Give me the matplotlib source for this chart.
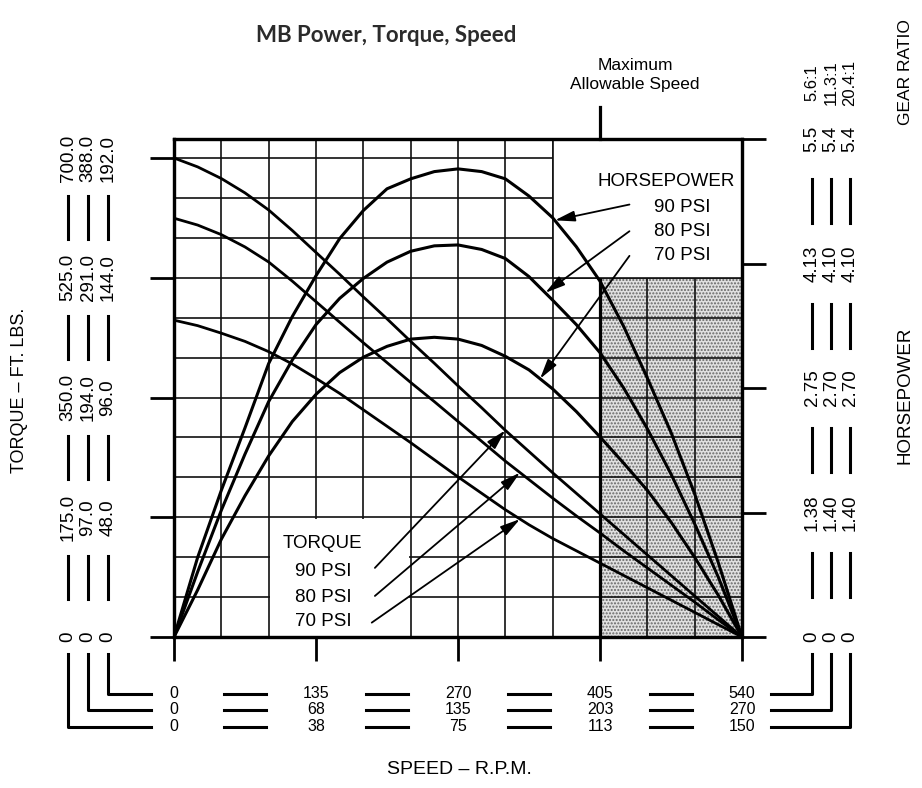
import numpy as np
import matplotlib
matplotlib.use("Agg")
import matplotlib.pyplot as plt
from matplotlib import transforms, font_manager
from matplotlib.patches import Rectangle
from matplotlib.lines import Line2D

# ---------------- data ----------------
speed = [0, 22.5, 45, 67.5, 90, 112.5, 135, 157.5, 180, 202.5, 225, 247.5,
         270, 292.5, 315, 337.5, 360, 382.5, 405, 427.5, 450, 472.5, 495, 517.5, 540]
hp_90 = [0, 0.88, 1.62, 2.31, 3.02, 3.54, 3.99, 4.40, 4.71, 4.95, 5.06, 5.14,
         5.17, 5.14, 5.06, 4.87, 4.63, 4.31, 3.93, 3.43, 2.86, 2.26, 1.58, 0.82, 0]
hp_80 = [0, 0.72, 1.40, 2.02, 2.60, 3.06, 3.45, 3.74, 3.96, 4.14, 4.26, 4.32,
         4.33, 4.28, 4.18, 3.98, 3.72, 3.45, 3.14, 2.75, 2.30, 1.80, 1.25, 0.66, 0]
hp_70 = [0, 0.52, 1.08, 1.56, 2.00, 2.38, 2.68, 2.92, 3.09, 3.21, 3.29, 3.31,
         3.29, 3.22, 3.10, 2.95, 2.74, 2.49, 2.21, 1.92, 1.62, 1.27, 0.88, 0.46, 0]
torque_90 = [700, 687, 670, 649, 624, 594, 562, 530, 497, 465, 432, 400,
             367, 335, 302, 271, 240, 210, 180, 150, 120, 90, 60, 30, 0]
torque_80 = [612, 602, 588, 570, 548, 520, 490, 460, 430, 401, 372, 344,
             315, 286, 257, 230, 203, 177, 152, 126, 101, 76, 51, 25, 0]
torque_70 = [463, 455, 444, 432, 417, 399, 378, 356, 332, 308, 284, 259,
             234, 210, 186, 164, 144, 126, 108, 90, 72, 54, 36, 18, 0]

speed_ticks = [0, 135, 270, 405, 540]
speed_labels = [["0", "135", "270", "405", "540"],
                ["0", "68", "135", "203", "270"],
                ["0", "38", "75", "113", "150"]]
torque_ticks = [0, 175, 350, 525, 700]
torque_labels = [["0", "175.0", "350.0", "525.0", "700.0"],
                 ["0", "97.0", "194.0", "291.0", "388.0"],
                 ["0", "48.0", "96.0", "144.0", "192.0"]]
hp_ticks = [0, 1.375, 2.75, 4.125, 5.5]
hp_labels = [["0", "1.38", "2.75", "4.13", "5.5"],
             ["0", "1.40", "2.70", "4.10", "5.4"],
             ["0", "1.40", "2.70", "4.10", "5.4"]]
gear_ratios = ["5.6:1", "11.3:1", "20.4:1"]
psi_labels = ["90 PSI", "80 PSI", "70 PSI"]
max_speed = 405
max_torque_zone = 525
speed_grid_step = 45
torque_grid_step = 700 / 12


def has_font(name):
    try:
        font_manager.findfont(font_manager.FontProperties(family=name),
                              fallback_to_default=False)
        return True
    except Exception:
        return False


SANS = "Liberation Sans"
NARROW = "Liberation Sans Narrow" if has_font("Liberation Sans Narrow") else SANS
TITLE_FONT = "Lato"

W, H = 922, 788
fig = plt.figure(figsize=(W / 100, H / 100), dpi=100)
fig.patch.set_facecolor("white")


def fx(x):
    return x / W


def fy(y):
    return 1 - y / H


L, R, B, T = 174, 742, 637, 139
Y700 = 158
ax = fig.add_axes([fx(L), fy(B), (R - L) / W, (B - T) / H])
TQ_TOP = 700 * (B - T) / (B - Y700)
ax.set_xlim(0, 540)
ax.set_ylim(0, TQ_TOP)
ax2 = ax.twinx()
ax2.set_ylim(0, 5.5)
ax.set_facecolor("white")

LW_FRAME = 2.3
for a in (ax, ax2):
    for s in a.spines.values():
        s.set_linewidth(LW_FRAME)
ax.set_xticks(speed_ticks)
ax.set_yticks(torque_ticks)
ax.tick_params(axis="both", direction="out", length=17, width=2.0,
               labelleft=False, labelbottom=False, color="black")
ax2.set_yticks(hp_ticks)
ax2.tick_params(axis="y", direction="out", length=17, width=2.0,
                labelright=False)

# shaded zone beyond max speed
ax.add_patch(Rectangle((max_speed, 0), 540 - max_speed, max_torque_zone,
                       facecolor="#e0e0e0", edgecolor="#666666", hatch=".....",
                       lw=0, zorder=0.5))

# grid
gx = np.arange(speed_grid_step, 540, speed_grid_step)
gy = np.arange(1, 13) * torque_grid_step
ax.vlines(gx, 0, TQ_TOP, colors="#111111", lw=1.2, zorder=1)
ax.hlines(gy, 0, 540, colors="#111111", lw=1.2, zorder=1)

# white boxes (legend areas)
ax.add_patch(Rectangle((360, max_torque_zone), 180, TQ_TOP - max_torque_zone,
                       facecolor="white", edgecolor="none", zorder=1.5))
ax.vlines([360], max_torque_zone, TQ_TOP, colors="#111111", lw=1.2, zorder=1.6)
ax.hlines([max_torque_zone], 360, 540, colors="#111111", lw=1.2, zorder=1.6)
ax.add_patch(Rectangle((91.5, 1), 132, 172, facecolor="white",
                       edgecolor="none", zorder=1.5))
ax.vlines([max_speed], 0, max_torque_zone, colors="black", lw=2.3, zorder=2)

# curves
LW = 2.0
for tq in (torque_90, torque_80, torque_70):
    ax.plot(speed, tq, color="black", lw=LW, zorder=3, solid_capstyle="round",
            solid_joinstyle="round")
for hp in (hp_90, hp_80, hp_70):
    ax2.plot(speed, hp, color="black", lw=LW + 0.2, zorder=3,
             solid_capstyle="round", solid_joinstyle="round")

# max allowable speed marker
ax.plot([max_speed, max_speed], [TQ_TOP, TQ_TOP + 47], color="black",
        lw=2.3, clip_on=False, zorder=4)

arrow_kw = dict(arrowstyle="-|>,head_length=0.6,head_width=0.16",
                color="black", lw=1.3, shrinkA=0, shrinkB=0,
                mutation_scale=20)

# HORSEPOWER legend
ax.text(533, 665, "HORSEPOWER", ha="right", va="center", fontsize=13.5,
        family=SANS, zorder=5)
hp_text_y = [627, 592, 558]
hp_tail_y = [632, 593, 557]
hp_tip_x = [362, 353, 348]
for lab, ty, tly, tipx, hp in zip(psi_labels, hp_text_y, hp_tail_y, hp_tip_x,
                                 (hp_90, hp_80, hp_70)):
    ax.text(483, ty, lab, ha="center", va="center", fontsize=13.5,
            family=SANS, zorder=5)
    tip_hp = np.interp(tipx, speed, hp)
    tail = ax.transData.transform((433, tly))
    tail2 = ax2.transData.inverted().transform(tail)
    ax2.annotate("", xy=(tipx, tip_hp), xytext=tail2, arrowprops=arrow_kw,
                 zorder=5)

# TORQUE legend
ax.text(141.5, 137, "TORQUE", ha="center", va="center", fontsize=13.5,
        family=SANS, zorder=5)
tq_text_y = [95, 57, 22]
tq_tail = [(191, 101), (191, 60), (188, 21)]
tq_tip_x = [315, 329, 329]
for lab, ty, tail, tipx, tq in zip(psi_labels, tq_text_y, tq_tail, tq_tip_x,
                                  (torque_90, torque_80, torque_70)):
    ax.text(141.5, ty, lab, ha="center", va="center", fontsize=13.5,
            family=SANS, zorder=5)
    ax.annotate("", xy=(tipx, np.interp(tipx, speed, tq)), xytext=tail,
                arrowprops=arrow_kw, zorder=5)

# ---------------- outer scales ----------------
LW_SCALE = 2.2
tr_left = transforms.blended_transform_factory(fig.transFigure, ax.transData)
tr_right = transforms.blended_transform_factory(fig.transFigure, ax2.transData)
tr_bot = transforms.blended_transform_factory(ax.transData, fig.transFigure)

left_cols = [68, 88, 108]
for col, labels in zip(left_cols, torque_labels):
    for i, (v, lab) in enumerate(zip(torque_ticks, labels)):
        fig.text(fx(col), v, lab, transform=tr_left, rotation=90,
                 ha="center", va="center", fontsize=13.5, family=SANS)
        if i < len(torque_ticks) - 1:
            mid = (torque_ticks[i] + torque_ticks[i + 1]) / 2
            half = 0.18 * (torque_ticks[i + 1] - torque_ticks[i])
            fig.add_artist(Line2D([fx(col), fx(col)], [mid - half, mid + half],
                                  transform=tr_left, color="black", lw=LW_SCALE))

right_cols = [812, 831, 850]
for col, labels, gr in zip(right_cols, hp_labels, gear_ratios):
    for i, (v, lab) in enumerate(zip(hp_ticks, labels)):
        fig.text(fx(col), v, lab, transform=tr_right, rotation=90,
                 ha="center", va="center", fontsize=13.5, family=SANS)
        if i < len(hp_ticks) - 1:
            mid = (hp_ticks[i] + hp_ticks[i + 1]) / 2
            half = 0.175 * (hp_ticks[i + 1] - hp_ticks[i])
            fig.add_artist(Line2D([fx(col), fx(col)], [mid - half, mid + half],
                                  transform=tr_right, color="black", lw=LW_SCALE))
    fig.text(fx(col), fy(83), gr, rotation=90, ha="center", va="center",
             fontsize=12, family=SANS)

rows_y = [693.5, 710, 726.5]
for ry, labels in zip(rows_y, speed_labels):
    for i, (v, lab) in enumerate(zip(speed_ticks, labels)):
        fig.text(v, fy(ry), lab, transform=tr_bot, ha="center", va="center",
                 fontsize=11.5, family=NARROW)
        if i < len(speed_ticks) - 1:
            mid = (speed_ticks[i] + speed_ticks[i + 1]) / 2
            half = 0.15 * (speed_ticks[i + 1] - speed_ticks[i])
            fig.add_artist(Line2D([mid - half, mid + half], [fy(ry), fy(ry)],
                                  transform=tr_bot, color="black", lw=LW_SCALE))

# brackets joining the speed rows to the torque / horsepower columns
for ry, lc, rc in zip(rows_y, left_cols[::-1], right_cols):
    fig.add_artist(Line2D([fx(lc), fx(lc), fx(151)], [fy(654), fy(ry), fy(ry)],
                          color="black", lw=LW_SCALE))
    fig.add_artist(Line2D([fx(771), fx(rc), fx(rc)], [fy(ry), fy(ry), fy(654)],
                          color="black", lw=LW_SCALE))

# axis titles
fig.text(fx(20), fy(390), "TORQUE \u2013 FT. LBS.", rotation=90, ha="center",
         va="center", fontsize=13, family=SANS)
fig.text(fx(905), fy(395), "HORSEPOWER", rotation=90, ha="center",
         va="center", fontsize=13.5, family=SANS)
fig.text(fx(905), fy(72), "GEAR RATIO", rotation=90, ha="center",
         va="center", fontsize=12.5, family=SANS)
fig.text(fx(459), fy(770), "SPEED \u2013 R.P.M.", ha="center", va="center",
         fontsize=14, family=NARROW)
fig.text(fx(635), fy(66), "Maximum", ha="center", va="center",
         fontsize=12.5, family=NARROW)
fig.text(fx(635), fy(84), "Allowable Speed", ha="center", va="center",
         fontsize=12.5, family=NARROW)
fig.text(fx(386), fy(35), "MB Power, Torque, Speed", ha="center", va="center",
         fontsize=16, family=TITLE_FONT, weight="bold", color="#2b2b2b")

fig.savefig("out.png", dpi=100, facecolor="white")
